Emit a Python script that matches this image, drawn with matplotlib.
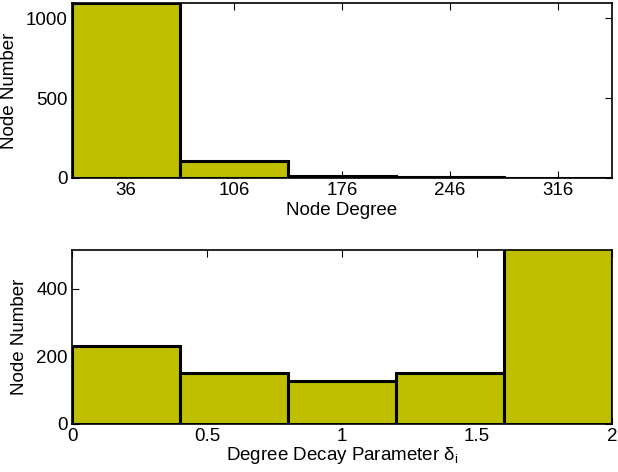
import matplotlib
matplotlib.use("Agg")
import matplotlib.pyplot as plt
import numpy as np

plt.rcParams['font.family'] = ['Liberation Sans', 'DejaVu Sans']
plt.rcParams['mathtext.fontset'] = 'custom'
plt.rcParams['mathtext.rm'] = 'Liberation Sans'
plt.rcParams['mathtext.it'] = 'Liberation Sans'

# Top histogram: node degree
degree_centers = [36, 106, 176, 246, 316]
degree_counts = [1094, 108, 15, 5, 3]
degree_ticks = [36, 106, 176, 246, 316]

# Bottom histogram: degree decay parameter
decay_centers = [0.2, 0.6, 1.0, 1.4, 1.8]
decay_counts = [232, 150, 128, 152, 530]
decay_ticks = [0, 0.5, 1, 1.5, 2]
decay_yticks = [0, 200, 400]

bar_color = '#BFBF00'
W, H = 618, 472
fig = plt.figure(figsize=(W/100, H/100), dpi=100)

ax1 = fig.add_axes([72/W, (H-178)/H, 540/W, 175/H])
ax2 = fig.add_axes([72/W, (H-424)/H, 540/W, 174.5/H])

fs = 13.5

w1 = degree_centers[1] - degree_centers[0]
ax1.bar(degree_centers, degree_counts, width=w1, color=bar_color,
        edgecolor='black', linewidth=2.2, zorder=2)
ax1.set_xlim(degree_centers[0] - w1/2, degree_centers[-1] + w1/2)
ax1.set_ylim(0, 1094)
ax1.set_xticks(degree_ticks)
ax1.set_yticks([0, 500, 1000])
ax1.set_xlabel('Node Degree', fontsize=fs, labelpad=2)
ax1.set_ylabel('Node Number', fontsize=fs, labelpad=6)

w2 = decay_centers[1] - decay_centers[0]
ax2.bar(decay_centers, decay_counts, width=w2, color=bar_color,
        edgecolor='black', linewidth=2.2, zorder=2)
ax2.set_xlim(0, 2)
ax2.set_ylim(0, 517)
ax2.set_xticks(decay_ticks)
ax2.set_xticklabels(['0', '0.5', '1', '1.5', '2'])
ax2.set_yticks(decay_yticks)
ax2.set_xlabel(r'Degree Decay Parameter $\delta_i$', fontsize=fs, labelpad=0)
ax2.set_ylabel('Node Number', fontsize=fs, labelpad=6)

for ax in (ax1, ax2):
    ax.tick_params(direction='in', top=True, right=True, labelsize=fs,
                   length=5, width=0.8, pad=3)
    for s in ax.spines.values():
        s.set_linewidth(1.2)
        s.set_zorder(3)

fig.savefig('out.png', dpi=100)
